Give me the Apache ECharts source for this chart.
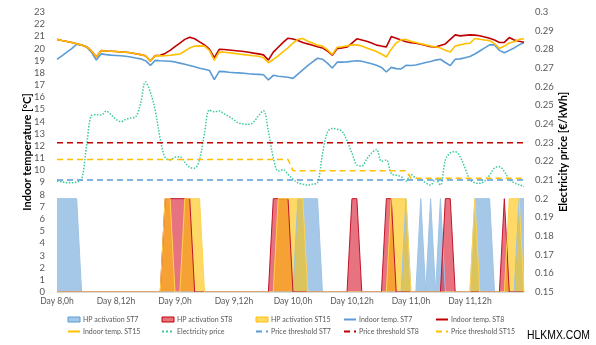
<!DOCTYPE html>
<html>
<head>
<meta charset="utf-8">
<script src="https://cdn.jsdelivr.net/npm/echarts@6/dist/echarts.min.js"></script>
<style>
  html, body { margin: 0; padding: 0; background: #fff; }
  #chart { width: 596px; height: 345px; }
</style>
</head>
<body>
<div id="chart"></div>
<script>
// Hourly simulation over four days
const days = [8, 9, 10, 11];
const hoursPerDay = 24;
const hourLabels = [];
days.forEach(function (d) {
  for (let h = 0; h < hoursPerDay; h++) hourLabels.push('Day ' + d + ',' + h + 'h');
});

// Indoor temperature per station [°C]
const tempST7 = [
  19.1, 19.4, 19.7, 20.0, 20.35, 20.28, 20.12, 19.7, 19.05, 19.56,
  19.5, 19.46, 19.43, 19.4, 19.37, 19.3, 19.22, 19.15, 19.0, 18.62,
  19.03, 19.0, 18.98, 18.95, 18.9, 18.8, 18.7, 18.6, 18.5, 18.38,
  18.3, 18.2, 17.45, 18.12, 18.1, 18.05, 18.02, 18.0, 17.97, 17.93,
  17.9, 17.88, 17.85, 17.42, 17.8, 17.72, 17.68, 17.64, 17.55, 17.9,
  18.25, 18.6, 18.9, 19.2, 19.12, 18.8, 18.4, 18.88, 18.88, 18.9,
  18.95, 19.0, 18.95, 18.85, 18.75, 18.62, 18.45, 18.07, 18.45, 18.35,
  18.32, 18.62, 18.6, 18.65, 18.75, 18.85, 18.93, 19.05, 19.12, 18.85,
  18.6, 19.12, 19.15, 19.25, 19.35, 19.55, 19.8, 20.05, 20.3, 20.3,
  19.85, 19.65, 19.85, 20.05, 20.3, 20.5
];
const tempST8 = [
  20.75, 20.66, 20.58, 20.5, 20.4, 20.28, 20.15, 19.8, 19.3, 19.83,
  19.8, 19.78, 19.75, 19.72, 19.7, 19.65, 19.57, 19.5, 19.4, 18.97,
  19.42, 19.45, 19.6, 19.85, 20.15, 20.45, 20.75, 20.93, 20.8, 20.55,
  20.3, 19.95, 19.25, 19.93, 19.92, 19.88, 19.84, 19.8, 19.75, 19.7,
  19.62, 19.56, 19.48, 19.05, 19.7, 20.1, 20.5, 20.85, 20.78, 20.65,
  20.5, 20.38, 20.27, 20.15, 20.05, 19.8, 19.45, 20.0, 20.05, 20.12,
  20.45, 20.8, 20.7, 20.6, 20.45, 20.28, 20.2, 20.13, 20.98, 20.85,
  20.7, 20.55, 20.47, 20.43, 20.35, 20.25, 20.15, 20.12, 20.25, 20.38,
  20.75, 21.12, 21.04, 21.08, 21.12, 21.1, 21.05, 20.95, 20.85, 20.7,
  20.5, 20.5, 20.9, 20.7, 20.6, 20.52
];
const tempST15 = [
  20.75, 20.66, 20.58, 20.5, 20.4, 20.28, 20.15, 19.8, 19.3, 19.83,
  19.8, 19.78, 19.75, 19.72, 19.7, 19.65, 19.57, 19.5, 19.4, 18.97,
  19.4, 19.4, 19.42, 19.45, 19.5, 19.55, 19.8, 20.05, 20.2, 20.22,
  20.2, 19.85, 19.03, 19.72, 19.7, 19.65, 19.6, 19.55, 19.5, 19.45,
  19.4, 19.36, 19.25, 18.83, 19.1, 19.4, 19.75, 20.05, 20.45, 20.75,
  20.82, 20.6, 20.45, 20.28, 20.2, 19.9, 19.52, 20.1, 20.15, 20.22,
  20.3, 20.3, 20.2, 20.05, 19.9, 19.75, 19.55, 19.3, 19.95, 20.45,
  20.72, 20.75, 20.6, 20.5, 20.4, 20.3, 20.2, 20.15, 20.05, 19.85,
  19.72, 20.2, 20.3, 20.4, 20.43, 20.82, 20.76, 20.7, 20.65, 20.4,
  20.0, 20.2, 20.45, 20.55, 20.75, 20.8
];

// Electricity price [€/kWh]
const price = [
  0.2095, 0.209, 0.2085, 0.2085, 0.209, 0.2102, 0.228, 0.2445, 0.245, 0.2448,
  0.2469, 0.245, 0.2425, 0.2412, 0.2425, 0.2432, 0.2438, 0.251, 0.2625, 0.257,
  0.247, 0.232, 0.222, 0.2207, 0.2222, 0.2224, 0.2195, 0.2168, 0.2163, 0.221,
  0.235, 0.2475, 0.2465, 0.247, 0.2455, 0.244, 0.2422, 0.2405, 0.24, 0.2398,
  0.241, 0.2445, 0.2471, 0.236, 0.222, 0.2148, 0.2155, 0.213, 0.2105, 0.2085,
  0.2078, 0.2073, 0.2078, 0.2085, 0.224, 0.2355, 0.2376, 0.2372, 0.236, 0.231,
  0.2245, 0.218, 0.2175, 0.2212, 0.2245, 0.2264, 0.22, 0.2207, 0.2135, 0.2125,
  0.2118, 0.2095, 0.213, 0.211, 0.2104, 0.2085, 0.2073, 0.2104, 0.2073, 0.2207,
  0.2245, 0.2252, 0.2225, 0.2165, 0.2104, 0.2085, 0.2082, 0.2095, 0.2125, 0.2165,
  0.2171, 0.2145, 0.2104, 0.2085, 0.2075, 0.2064
];

// Daily price thresholds [€/kWh]
const thresholdST7 = [0.21, 0.21, 0.21, 0.21];
const thresholdST8 = [0.23, 0.23, 0.23, 0.23];
const thresholdST15 = [0.221, 0.221, 0.215, 0.211];

// Hours in which the heat pump runs
const hpOnST7 = [0, 1, 2, 3, 4, 49, 50, 51, 52, 53, 71, 74, 76, 78, 85, 86, 87, 88, 94, 95];
const hpOnST8 = [22, 23, 24, 25, 26, 27, 44, 45, 46, 47, 60, 61, 67, 68, 79, 80, 91];
const hpOnST15 = [22, 23, 26, 27, 28, 29, 45, 46, 47, 48, 49, 50, 68, 69, 70, 71, 85, 92, 93, 94];

function onOff(onHours) {
  return hourLabels.map(function (_, i) { return onHours.indexOf(i) >= 0 ? 1 : 0; });
}
function hourly(daily) {
  return hourLabels.map(function (_, i) { return daily[Math.floor(i / hoursPerDay)]; });
}

const FONT = 'Lato';
const GREY = '#595959';

function areaSeries(name, flags, fill, edge) {
  return {
    name: name, type: 'line', yAxisIndex: 2, data: flags,
    symbol: 'none', silent: true, z: 1,
    lineStyle: { color: edge, width: 1 },
    itemStyle: { color: fill },
    areaStyle: { color: fill, opacity: 1 }
  };
}
function lineSeries(name, values, axis, color, type, width, extra) {
  return Object.assign({
    name: name, type: 'line', yAxisIndex: axis, data: values,
    symbol: 'none', silent: true, z: 3,
    lineStyle: { color: color, width: width, type: type },
    itemStyle: { color: color }
  }, extra || {});
}

const series = [
  areaSeries('HP activation ST7', onOff(hpOnST7), 'rgba(91,155,213,0.55)', '#9DC3E6'),
  areaSeries('HP activation ST8', onOff(hpOnST8), 'rgba(220,40,60,0.65)', '#C0142B'),
  areaSeries('HP activation ST15', onOff(hpOnST15), 'rgba(255,192,0,0.6)', '#FFD34D'),
  lineSeries('Indoor temp. ST7', tempST7, 0, '#5B9BD5', 'solid', 1.6),
  lineSeries('Indoor temp. ST8', tempST8, 0, '#C00000', 'solid', 1.6),
  lineSeries('Indoor temp. ST15', tempST15, 0, '#FFC000', 'solid', 1.6),
  lineSeries('Electricity price', price, 1, '#3DC9A0', 'dotted', 1.5, { smooth: 0.35 }),
  lineSeries('Price threshold ST7', hourly(thresholdST7), 1, '#5B9BD5', [6, 4], 1.5),
  lineSeries('Price threshold ST8', hourly(thresholdST8), 1, '#C00000', [6, 4], 1.5),
  lineSeries('Price threshold ST15', hourly(thresholdST15), 1, '#FFC000', [6, 4], 1.5)
];

const hidden = { color: 'rgba(0,0,0,0)', borderColor: 'rgba(0,0,0,0)', borderWidth: 0 };
function areaItem(name, fill, edge) {
  return { name: name, icon: 'rect', itemStyle: { color: fill, borderColor: edge, borderWidth: 1 } };
}
function lineItem(name) { return { name: name, itemStyle: hidden }; }

const legendColumns = [
  { left: 67, items: [areaItem('HP activation ST7', 'rgba(91,155,213,0.55)', '#5B9BD5'), lineItem('Indoor temp. ST15')] },
  { left: 161, items: [areaItem('HP activation ST8', 'rgba(220,40,60,0.65)', '#C00000'), lineItem('Electricity price')] },
  { left: 255, items: [areaItem('HP activation ST15', 'rgba(255,192,0,0.6)', '#FFC000'), lineItem('Price threshold ST7')] },
  { left: 343, items: [lineItem('Indoor temp. ST7'), lineItem('Price threshold ST8')] },
  { left: 435, items: [lineItem('Indoor temp. ST8'), lineItem('Price threshold ST15')] }
];
const legends = legendColumns.map(function (col) {
  return {
    left: col.left, top: 316, orient: 'vertical', padding: 0,
    itemGap: 5, itemWidth: 12, itemHeight: 5, selectedMode: false,
    textStyle: { fontFamily: FONT, fontSize: 7, color: GREY, padding: [0, 0, 0, -2] },
    data: col.items
  };
});

const chart = echarts.init(document.getElementById('chart'), null, { renderer: 'canvas' });
chart.setOption({
  animation: false,
  backgroundColor: '#fff',
  grid: { left: 57, right: 72, top: 12, bottom: 53, containLabel: false },
  legend: legends,
  xAxis: {
    type: 'category', data: hourLabels, boundaryGap: false, z: 5,
    axisLine: { lineStyle: { color: '#D9D9D9', width: 1 } },
    axisTick: { show: false },
    splitLine: { show: false },
    axisLabel: { interval: 11, color: GREY, fontFamily: FONT, fontSize: 8.5, margin: 5 }
  },
  yAxis: [
    {
      type: 'value', position: 'left', min: 0, max: 23, interval: 1,
      axisLine: { show: false }, axisTick: { show: false }, splitLine: { show: false },
      axisLabel: { color: GREY, fontFamily: FONT, fontSize: 9.5, margin: 12 },
      name: 'Indoor temperature [°C]', nameLocation: 'middle', nameGap: 24, nameMoveOverlap: false,
      nameTextStyle: { fontFamily: FONT, fontWeight: 'bold', fontSize: 11, color: '#000' }
    },
    {
      type: 'value', position: 'right', min: 0.15, max: 0.3, interval: 0.01,
      axisLine: { show: false }, axisTick: { show: false }, splitLine: { show: false },
      axisLabel: {
        color: GREY, fontFamily: FONT, fontSize: 9.5, margin: 11,
        formatter: function (v) { return String(+v.toFixed(2)); }
      },
      name: 'Electricity price [€/kWh]', nameLocation: 'middle', nameGap: 34, nameMoveOverlap: false,
      nameTextStyle: { fontFamily: FONT, fontWeight: 'bold', fontSize: 11, color: '#000' }
    },
    { type: 'value', min: 0, max: 3, show: false }
  ],
  series: series,
  graphic: [{
    type: 'text', x: 527, y: 329, scaleX: 0.8,
    style: { text: 'HLKMX.COM', fill: '#000', font: '13px "Liberation Sans", Arial, sans-serif' }
  }]
});
</script>
</body>
</html>
